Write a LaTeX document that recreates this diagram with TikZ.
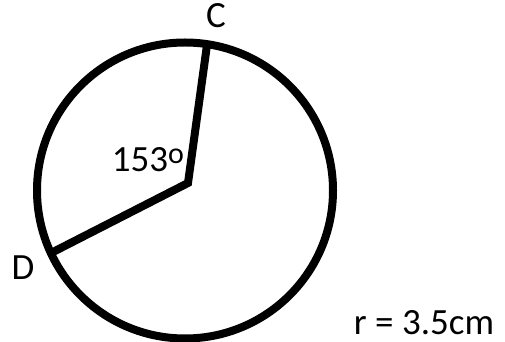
\documentclass[tikz,border=0pt]{standalone}
\usepackage{fontspec}
\setmainfont{Carlito}
\usetikzlibrary{positioning}

\begin{document}
\begin{tikzpicture}[x=1pt, y=1pt,
    rim/.style={line width=8pt},
    lbl/.style={font=\fontsize{37}{44}\selectfont, inner sep=0pt, anchor=base}]
  \useasboundingbox (0,0) rectangle (505,342);
  % circle and the two radii
  \coordinate (O) at (185,151.5);
  \coordinate (J) at (188,159);
  \coordinate (Cpt) at (207,297);
  \coordinate (Dpt) at (53,90);
  \draw[rim] (O) circle (148);
  \draw[rim, line join=miter] (Cpt) -- (J) -- (Dpt);
  % labels
  \node[lbl] (C) at (216,314) {C};
  \node[lbl] (D) at (23,62) {D};
  \node[lbl] (ang) at (148,170) {153\raisebox{8pt}{\fontsize{30}{36}\selectfont o}};
  \node[lbl] (rad) at (424,8) {r = 3.5cm};
\end{tikzpicture}
\end{document}
